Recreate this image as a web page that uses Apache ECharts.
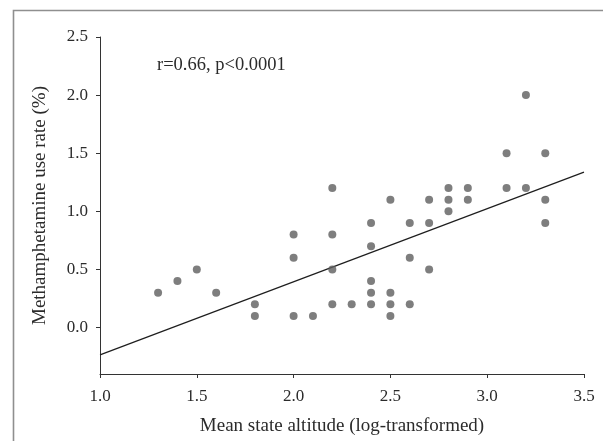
<!DOCTYPE html>
<html>
<head>
<meta charset="utf-8">
<script src="https://cdn.jsdelivr.net/npm/echarts@6/dist/echarts.min.js"></script>
<style>
html,body{margin:0;padding:0;background:#fff;}
#chart{width:603px;height:441px;}
</style>
</head>
<body>
<div id="chart"></div>
<script>
// Data
const altitude = [1.3, 1.4, 1.5, 1.6, 1.8, 1.8, 2.0, 2.0, 2.0, 2.1,
  2.2, 2.2, 2.2, 2.2, 2.3, 2.4, 2.4, 2.4, 2.4, 2.4,
  2.5, 2.5, 2.5, 2.5, 2.6, 2.6, 2.6, 2.7, 2.7, 2.7,
  2.8, 2.8, 2.8, 2.9, 2.9, 3.1, 3.1, 3.2, 3.2, 3.3, 3.3, 3.3];
const methRate = [0.3, 0.4, 0.5, 0.3, 0.2, 0.1, 0.8, 0.6, 0.1, 0.1,
  1.2, 0.8, 0.5, 0.2, 0.2, 0.9, 0.7, 0.4, 0.3, 0.2,
  1.1, 0.3, 0.2, 0.1, 0.9, 0.6, 0.2, 1.1, 0.9, 0.5,
  1.2, 1.1, 1.0, 1.2, 1.1, 1.5, 1.2, 2.0, 1.2, 1.5, 1.1, 0.9];
const fitX = [1.0, 3.5];
const fitY = [-0.235, 1.337];
const yTicks = [0.0, 0.5, 1.0, 1.5, 2.0, 2.5];
const annotation = 'r=0.66, p<0.0001';
const xTitle = 'Mean state altitude (log-transformed)';
const yTitle = 'Methamphetamine use rate (%)';

const points = altitude.map((x, i) => [x, methRate[i]]);
const fitLine = fitX.map((x, i) => [x, fitY[i]]);

const FONT = '"Liberation Serif", "Times New Roman", serif';
const TXT = '#2b2b2b';

const chart = echarts.init(document.getElementById('chart'), null, {renderer: 'canvas'});
chart.setOption({
  animation: false,
  backgroundColor: '#fff',
  grid: {left: 100, top: 37, right: 19, bottom: 66, containLabel: false},
  xAxis: {
    type: 'value', min: 1.0, max: 3.5, interval: 0.5,
    name: xTitle, nameLocation: 'middle', nameGap: 43,
    nameTextStyle: {fontFamily: FONT, fontSize: 19, color: TXT},
    axisLine: {show: true, onZero: false, lineStyle: {color: '#333', width: 1}},
    axisTick: {show: true, length: 4, lineStyle: {color: '#333'}},
    axisLabel: {fontFamily: FONT, fontSize: 17, color: TXT, margin: 14,
      formatter: v => v.toFixed(1)},
    splitLine: {show: false}
  },
  yAxis: {
    type: 'value', min: -0.4, max: 2.5,
    name: yTitle, nameLocation: 'middle', nameGap: 50,
    nameTextStyle: {fontFamily: FONT, fontSize: 19, color: TXT},
    axisLine: {show: true, onZero: false, lineStyle: {color: '#333', width: 1}},
    axisTick: {show: true, length: 4, lineStyle: {color: '#333'}, customValues: yTicks},
    axisLabel: {fontFamily: FONT, fontSize: 17, color: TXT, margin: 12,
      customValues: yTicks, formatter: v => v.toFixed(1)},
    splitLine: {show: false}
  },
  graphic: [
    {type: 'rect', left: 11, top: 8, z: 100,
     shape: {x: 0, y: 0, width: 620, height: 460},
     style: {fill: null, stroke: '#8f8f8f', lineWidth: 1.6}},
    {type: 'text', left: 157, top: 56, z: 100,
     style: {text: annotation, font: '18.5px ' + FONT, fill: TXT}}
  ],
  series: [
    {type: 'line', data: fitLine, symbol: 'none', silent: true,
     lineStyle: {color: '#1e1e1e', width: 1.2}, z: 2},
    {type: 'scatter', data: points, symbol: 'circle', symbolSize: 8,
     itemStyle: {color: '#5e5e5e'}, z: 3}
  ]
});
</script>
</body>
</html>
